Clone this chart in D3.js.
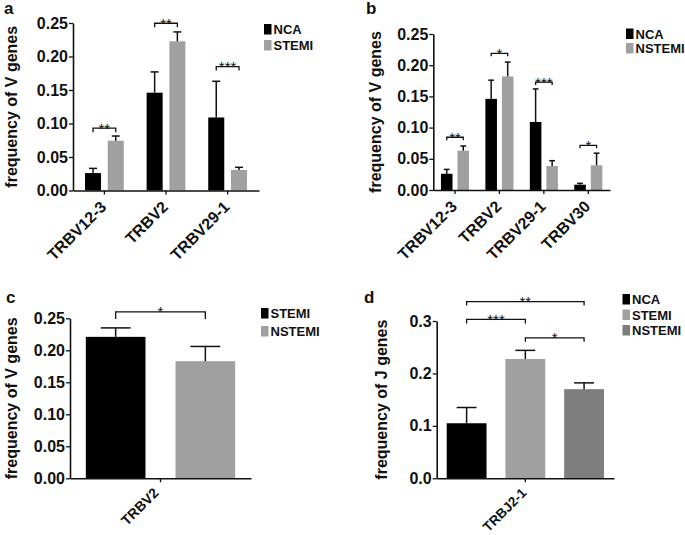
<!DOCTYPE html>
<html>
<head>
<meta charset="utf-8">
<script src="https://cdn.jsdelivr.net/npm/d3@7"></script>
<style>
  html, body { margin: 0; padding: 0; background: #fff; }
  svg { display: block; }
  text { font-family: "Liberation Sans", Arial, Helvetica, sans-serif; }
</style>
</head>
<body>
<svg id="chart" width="685" height="535"></svg>
<script>
// ---------- DATA ----------
// Panel a
const aCategories = ["TRBV12-3", "TRBV2", "TRBV29-1"];
const aSeriesNames = ["NCA", "STEMI"];
const aNCA = [0.026, 0.146, 0.109];
const aNCAErr = [0.007, 0.031, 0.054];
const aSTEMI = [0.0743, 0.2227, 0.0306];
const aSTEMIErr = [0.007, 0.014, 0.004];
const aSig = [
  { cat: "TRBV12-3", from: "NCA", to: "STEMI", level: 0.093, label: "**" },
  { cat: "TRBV2", from: "NCA", to: "STEMI", level: 0.2496, label: "**" },
  { cat: "TRBV29-1", from: "NCA", to: "STEMI", level: 0.185, label: "***" }
];

// Panel b
const bCategories = ["TRBV12-3", "TRBV2", "TRBV29-1", "TRBV30"];
const bSeriesNames = ["NCA", "NSTEMI"];
const bNCA = [0.026, 0.146, 0.109, 0.0085];
const bNCAErr = [0.007, 0.030, 0.053, 0.0022];
const bNSTEMI = [0.063, 0.182, 0.0385, 0.0396];
const bNSTEMIErr = [0.0075, 0.023, 0.0085, 0.0194];
const bSig = [
  { cat: "TRBV12-3", from: "NCA", to: "NSTEMI", level: 0.0845, label: "**" },
  { cat: "TRBV2", from: "NCA", to: "NSTEMI", level: 0.219, label: "*" },
  { cat: "TRBV29-1", from: "NCA", to: "NSTEMI", level: 0.173, label: "***" },
  { cat: "TRBV30", from: "NCA", to: "NSTEMI", level: 0.0716, label: "*" }
];

// Panel c
const cCategories = ["TRBV2"];
const cSeriesNames = ["STEMI", "NSTEMI"];
const cSTEMI = [0.221];
const cSTEMIErr = [0.014];
const cNSTEMI = [0.183];
const cNSTEMIErr = [0.023];
const cSig = [
  { cat: "TRBV2", from: "STEMI", to: "NSTEMI", level: 0.26, label: "*" }
];

// Panel d
const dCategories = ["TRBJ2-1"];
const dSeriesNames = ["NCA", "STEMI", "NSTEMI"];
const dNCA = [0.105];
const dNCAErr = [0.030];
const dSTEMI = [0.2275];
const dSTEMIErr = [0.0165];
const dNSTEMI = [0.170];
const dNSTEMIErr = [0.012];
const dSig = [
  { cat: "TRBJ2-1", from: "NCA", to: "NSTEMI", level: 0.337, label: "**" },
  { cat: "TRBJ2-1", from: "NCA", to: "STEMI", level: 0.303, label: "***" },
  { cat: "TRBJ2-1", from: "STEMI", to: "NSTEMI", level: 0.268, label: "*" }
];

const vTicks = [0, 0.05, 0.10, 0.15, 0.20, 0.25];
const jTicks = [0, 0.1, 0.2, 0.3];

// ---------- DRAWING ----------
const svg = d3.select("#chart");
const FONT = '"Liberation Sans", Arial, Helvetica, sans-serif';

function drawPanel(cfg) {
  const g = svg.append("g");
  const y = d3.scaleLinear().domain([0, cfg.yMax]).range([cfg.y0, cfg.y1]);
  const x0 = d3.scaleBand().domain(cfg.categories)
    .range([cfg.xl, cfg.xr]).paddingInner(cfg.pi).paddingOuter(cfg.po);
  const x1 = d3.scaleBand().domain(cfg.series.map(s => s.name))
    .range([0, x0.bandwidth()]).paddingInner(cfg.pi1);
  const bw = x1.bandwidth();

  // bars
  cfg.series.forEach(s => {
    const data = cfg.categories.map((c, i) => ({ c, v: s.values[i], e: s.errs[i] }));
    g.selectAll(null).data(data).enter().append("rect")
      .attr("x", d => x0(d.c) + x1(s.name))
      .attr("y", d => y(d.v))
      .attr("width", bw)
      .attr("height", d => y(0) - y(d.v))
      .attr("fill", s.color);
    // error bars (upper only)
    data.forEach(d => {
      const cx = x0(d.c) + x1(s.name) + bw / 2;
      g.append("line").attr("x1", cx).attr("x2", cx)
        .attr("y1", y(d.v)).attr("y2", y(d.v + d.e))
        .attr("stroke", "#111").attr("stroke-width", 1.5);
      g.append("line").attr("x1", cx - bw / 4).attr("x2", cx + bw / 4)
        .attr("y1", y(d.v + d.e)).attr("y2", y(d.v + d.e))
        .attr("stroke", "#111").attr("stroke-width", 1.5);
    });
  });

  // y axis
  const yAxis = d3.axisLeft(y).tickValues(cfg.ticks)
    .tickFormat(d3.format(cfg.fmt)).tickSize(4).tickSizeOuter(0).tickPadding(1);
  const ya = g.append("g").attr("transform", `translate(${cfg.xl},0)`).call(yAxis);
  ya.select(".domain").attr("stroke", "#111").attr("stroke-width", 1.6);
  ya.selectAll(".tick line").attr("stroke", "#111").attr("stroke-width", 1.3);
  ya.selectAll(".tick text").attr("font-family", FONT).attr("font-size", cfg.tickFont)
    .attr("font-weight", "bold").attr("fill", "#111");

  // x axis
  const xAxis = d3.axisBottom(x0).tickSize(4).tickSizeOuter(0);
  const xa = g.append("g").attr("transform", `translate(0,${cfg.y0})`).call(xAxis);
  xa.select(".domain").attr("stroke", "#111").attr("stroke-width", 1.6);
  xa.selectAll(".tick line").attr("stroke", "#111").attr("stroke-width", 1.3);
  xa.selectAll(".tick text")
    .attr("font-family", FONT).attr("font-size", cfg.xFont).attr("font-weight", "bold").attr("fill", "#111")
    .attr("x", 0).attr("y", 0).attr("dy", 0)
    .attr("text-anchor", "end")
    .attr("transform", `translate(${cfg.lblDx},${cfg.lblDy}) rotate(-45)`);

  // y label
  g.append("text")
    .attr("transform", `translate(${cfg.ylabX},${(cfg.y0 + cfg.y1) / 2}) rotate(-90)`)
    .attr("text-anchor", "middle")
    .attr("font-family", FONT).attr("font-size", 16).attr("font-weight", "bold").attr("fill", "#111")
    .text(cfg.ylabel);

  // panel letter
  g.append("text").attr("x", cfg.letterX).attr("y", cfg.letterY)
    .attr("font-family", FONT).attr("font-size", 17).attr("font-weight", "bold").attr("fill", "#111")
    .text(cfg.letter);

  // significance brackets
  cfg.sig.forEach(s => {
    const xa1 = x0(s.cat) + x1(s.from) + bw / 2;
    const xa2 = x0(s.cat) + x1(s.to) + bw / 2;
    const yb = y(s.level);
    g.append("path")
      .attr("d", `M${xa1},${yb + cfg.brTick}L${xa1},${yb}L${xa2},${yb}L${xa2},${yb + cfg.brTick}`)
      .attr("fill", "none").attr("stroke", "#111").attr("stroke-width", 1.3);
    g.append("text").attr("x", (xa1 + xa2) / 2).attr("y", yb + 5.5)
      .attr("text-anchor", "middle")
      .attr("font-family", FONT).attr("font-size", 15).attr("fill", "#111")
      .text(s.label);
  });

  // legend
  cfg.series.forEach((s, i) => {
    const ly = cfg.legY + i * cfg.legStep;
    g.append("rect").attr("x", cfg.legX).attr("y", ly).attr("width", 7.5).attr("height", 10.5)
      .attr("fill", s.color);
    g.append("text").attr("x", cfg.legX + 9.5).attr("y", ly + 10)
      .attr("font-family", FONT).attr("font-size", 13).attr("font-weight", "bold").attr("fill", "#111")
      .text(s.name);
  });
}

const BLACK = "#000000", LIGHT = "#a0a0a0", MID = "#7e7e7e";

drawPanel({
  letter: "a", letterX: 4, letterY: 14,
  categories: aCategories,
  series: [
    { name: aSeriesNames[0], values: aNCA, errs: aNCAErr, color: BLACK },
    { name: aSeriesNames[1], values: aSTEMI, errs: aSTEMIErr, color: LIGHT }
  ],
  sig: aSig,
  yMax: 0.25, ticks: vTicks, fmt: ".2f", tickFont: 16, xFont: 16,
  y0: 190.5, y1: 23, xl: 73, xr: 259, pi: 0.371, po: 0.195, pi1: 0.295,
  ylabel: "frequency of V genes", ylabX: 17,
  lblDx: 3, lblDy: 17.5, brTick: 4,
  legX: 264, legY: 24, legStep: 16
});

drawPanel({
  letter: "b", letterX: 366, letterY: 14,
  categories: bCategories,
  series: [
    { name: bSeriesNames[0], values: bNCA, errs: bNCAErr, color: BLACK },
    { name: bSeriesNames[1], values: bNSTEMI, errs: bNSTEMIErr, color: LIGHT }
  ],
  sig: bSig,
  yMax: 0.25, ticks: vTicks, fmt: ".2f", tickFont: 16, xFont: 16,
  y0: 190, y1: 34, xl: 433.3, xr: 610, pi: 0.368, po: 0.172, pi1: 0.3,
  ylabel: "frequency of V genes", ylabX: 381,
  lblDx: 3, lblDy: 17.5, brTick: 3,
  legX: 626, legY: 28.5, legStep: 14.5
});

drawPanel({
  letter: "c", letterX: 6, letterY: 303,
  categories: cCategories,
  series: [
    { name: cSeriesNames[0], values: cSTEMI, errs: cSTEMIErr, color: BLACK },
    { name: cSeriesNames[1], values: cNSTEMI, errs: cNSTEMIErr, color: LIGHT }
  ],
  sig: cSig,
  yMax: 0.25, ticks: vTicks, fmt: ".2f", tickFont: 16, xFont: 14,
  y0: 478.3, y1: 318.3, xl: 70, xr: 251, pi: 0, po: 0.106, pi1: 0.335,
  ylabel: "frequency of V genes", ylabX: 17,
  lblDx: -1, lblDy: 15.5, brTick: 7,
  legX: 261, legY: 308, legStep: 18
});

drawPanel({
  letter: "d", letterX: 364, letterY: 303,
  categories: dCategories,
  series: [
    { name: dSeriesNames[0], values: dNCA, errs: dNCAErr, color: BLACK },
    { name: dSeriesNames[1], values: dSTEMI, errs: dSTEMIErr, color: LIGHT },
    { name: dSeriesNames[2], values: dNSTEMI, errs: dNSTEMIErr, color: MID }
  ],
  sig: dSig,
  yMax: 0.3, ticks: jTicks, fmt: ".1f", tickFont: 16, xFont: 13.5,
  y0: 478.3, y1: 321, xl: 436.7, xr: 614, pi: 0, po: 0.0636, pi1: 0.322,
  ylabel: "frequency of J genes", ylabX: 387,
  lblDx: 2, lblDy: 15.5, brTick: 4,
  legX: 622.5, legY: 294, legStep: 15.5
});
</script>
</body>
</html>
